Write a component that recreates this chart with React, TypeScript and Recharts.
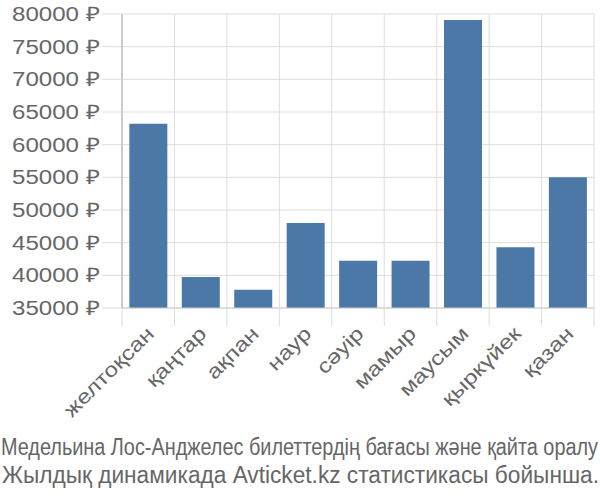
import React from "react";
import { BarChart, Bar, XAxis, YAxis, CartesianGrid } from "recharts";

const categories = ["желтоқсан", "қаңтар", "ақпан", "наур", "сәуір", "мамыр", "маусым", "қыркүйек", "қазан"];
const prices = [63200, 39750, 37800, 48000, 42250, 42250, 79100, 44300, 55000];
const yTicks = [35000, 40000, 45000, 50000, 55000, 60000, 65000, 70000, 75000, 80000];
const boundaryTicks = [0, 1, 2, 3, 4, 5, 6, 7, 8, 9];
const titleLines = [
  "Медельина Лос-Анджелес билеттердің бағасы және қайта оралу",
  "Жылдық динамикада Avticket.kz статистикасы бойынша.",
];

const data = categories.map((name, i) => ({ name, pos: i + 0.5, price: prices[i] }));

const FONT = "'Liberation Sans', Arial, sans-serif";

const YTick = (props: any) => {
  const { x, y, payload } = props;
  return (
    <text
      x={x}
      y={y}
      textAnchor="end"
      dominantBaseline="central"
      fontSize={20}
      fill="#666"
      fontFamily={FONT}
      textLength={88}
      lengthAdjust="spacingAndGlyphs"
    >
      {`${payload.value} ₽`}
    </text>
  );
};

const XTick = (props: any) => {
  const { x, y, payload } = props;
  return (
    <g transform={`translate(${x + 2},${y})`}>
      <text
        transform="rotate(-45) scale(1.22 1)"
        textAnchor="end"
        dy="0.35em"
        fontSize={20}
        fill="#666"
        fontFamily={FONT}
      >
        {payload.value}
      </text>
    </g>
  );
};

const EmptyTick = () => <g />;

export default function App() {
  return (
    <div style={{ position: "absolute", left: 0, top: 0, width: 600, height: 500, background: "#fff" }}>
      <BarChart
        width={600}
        height={500}
        data={data}
        margin={{ top: 14, right: 6, bottom: 100, left: 0 }}
        barCategoryGap="14%"
      >
        <CartesianGrid xAxisId="a_grid" stroke="#ddd" strokeWidth={1} />
        <XAxis
          xAxisId="a_grid"
          dataKey="pos"
          type="number"
          domain={[0, 9]}
          ticks={boundaryTicks}
          interval={0}
          height={1}
          tickSize={18}
          tick={EmptyTick}
          tickLine={{ stroke: "#ddd" }}
          axisLine={{ stroke: "#ccc" }}
          allowDataOverflow
        />
        <XAxis
          xAxisId="b_cat"
          dataKey="name"
          type="category"
          height={91}
          interval={0}
          tickLine={false}
          axisLine={false}
          tickSize={20}
          tickMargin={1}
          tick={<XTick />}
        />
        <YAxis
          width={122}
          domain={[35000, 80000]}
          ticks={yTicks}
          interval={0}
          tickSize={20}
          tickMargin={2}
          tickLine={{ stroke: "#ddd" }}
          axisLine={{ stroke: "#aaa" }}
          tick={<YTick />}
          allowDataOverflow
        />
        <Bar xAxisId="b_cat" dataKey="price" fill="#4c78a8" isAnimationActive={false} />
      </BarChart>
      <svg width={600} height={100} style={{ position: "absolute", left: 0, top: 400 }}>
        <text
          x={1}
          y={55}
          fontSize={23}
          fill="#666"
          fontFamily={FONT}
          textLength={597}
          lengthAdjust="spacingAndGlyphs"
        >
          {titleLines[0]}
        </text>
        <text
          x={2}
          y={83}
          fontSize={23}
          fill="#666"
          fontFamily={FONT}
          textLength={597}
          lengthAdjust="spacingAndGlyphs"
        >
          {titleLines[1]}
        </text>
      </svg>
    </div>
  );
}
